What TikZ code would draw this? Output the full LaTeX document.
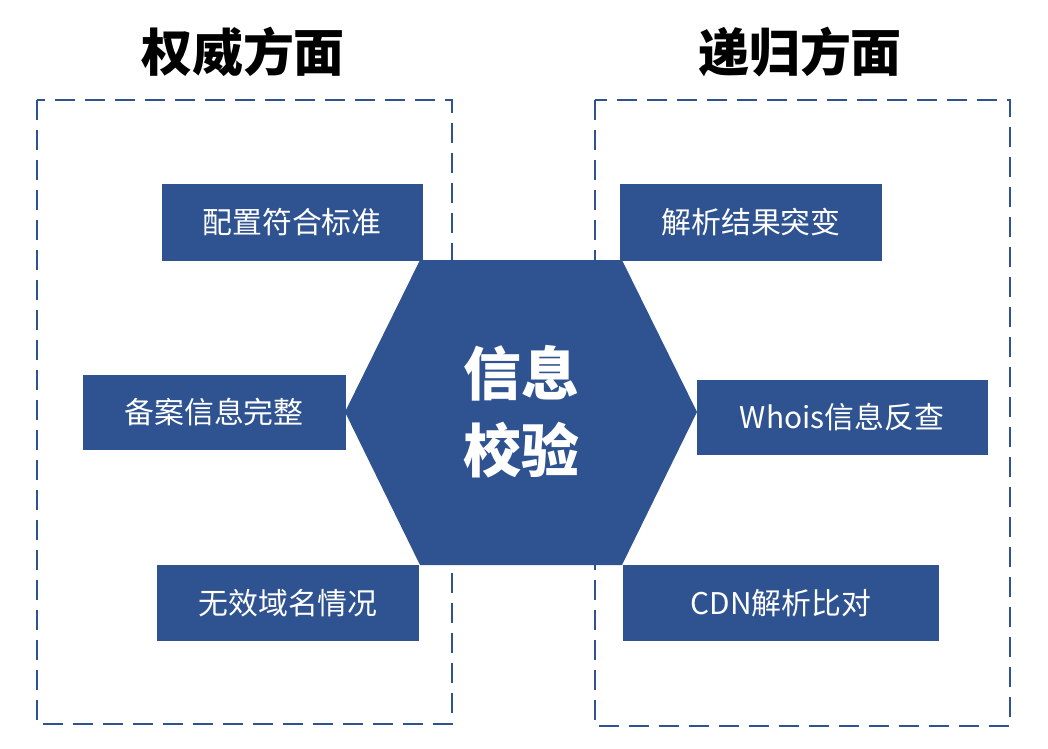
\documentclass[tikz,border=0pt]{standalone}
\usepackage{fontspec}
\newfontfamily\cjk{Noto Sans CJK SC}
\definecolor{navy}{HTML}{2F5391}
\begin{document}
\begin{tikzpicture}[x=0.02cm,y=-0.02cm,
	frame/.style={draw=navy,line width=1.6pt,dash pattern=on 0.4cm off 0.2cm},
	item/.style={fill=navy,text=white,font=\cjk\fontsize{17}{20}\selectfont,inner sep=0pt},
	title/.style={font=\cjk\bfseries\fontsize{29}{34}\selectfont}]
	\useasboundingbox (0,0) rectangle (1048,748);
	% dashed frames
	\draw[frame] (37,100) rectangle (452,724);
	\draw[frame] (595,100) rectangle (1010,726);
	\node[title] (Auth) at (243,52) {权威方面};
	\node[title] (Recur) at (800,52) {递归方面};
	% items
	\node[item,minimum width=261*0.02cm,minimum height=77*0.02cm] (Config) at (292,222) {配置符合标准};
	\node[item,minimum width=263*0.02cm,minimum height=75*0.02cm] (Record) at (214,412) {备案信息完整};
	\node[item,minimum width=262*0.02cm,minimum height=76*0.02cm] (Invalid) at (288,603) {无效域名情况};
	\node[item,minimum width=262*0.02cm,minimum height=77*0.02cm] (Jump) at (751,222) {解析结果突变};
	\node[item,minimum width=291*0.02cm,minimum height=75*0.02cm] (Whois) at (842,417) {Whois信息反查};
	\node[item,minimum width=316*0.02cm,minimum height=76*0.02cm] (CDN) at (781,603) {CDN解析比对};
	% center hexagon
	\fill[navy] (420,260) -- (622,260) -- (697,412) -- (622,565) -- (420,565) -- (345,412) -- cycle;
	\node[text=white,font=\cjk\bfseries\fontsize{33}{44}\selectfont,align=center] (Check) at (521,412) {信息\\校验};
\end{tikzpicture}
\end{document}
